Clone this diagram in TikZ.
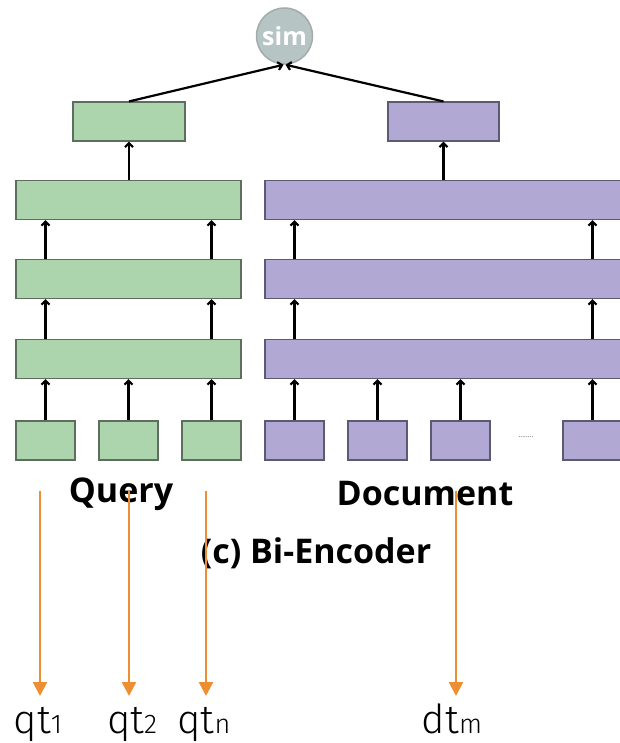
\documentclass[tikz,border=0pt]{standalone}
\usepackage{fontspec}
\setmainfont{Open Sans}
\newfontfamily\tokfont{Fira Sans Light}
\usetikzlibrary{arrows.meta,positioning}

\definecolor{qgreen}{HTML}{ACD5AE}
\definecolor{qedge}{HTML}{5E6E5E}
\definecolor{dpurple}{HTML}{B1A9D4}
\definecolor{dedge}{HTML}{5C5A72}
\definecolor{simgray}{HTML}{B7C4C4}
\definecolor{simedge}{HTML}{A2ACAC}
\definecolor{tokorange}{HTML}{EE8E32}

\tikzset{
  enc/.style={rectangle, draw, line width=1.1pt, inner sep=0pt, minimum height=39pt},
  qbox/.style={enc, fill=qgreen, draw=qedge},
  dbox/.style={enc, fill=dpurple, draw=dedge},
  arr/.style={line width=2.2pt, -{Straight Barb[length=4pt,width=8pt]}},
  tokarr/.style={draw=tokorange, line width=2.4pt, -{Triangle[length=14pt,width=14pt]}, fill=tokorange},
  caption/.style={font=\fontsize{34}{34}\selectfont\bfseries},
  toklabel/.style={anchor=base, inner sep=0pt, font=\tokfont}
}

% token name with its small index
\newcommand{\tok}[2]{{\fontsize{40}{40}\selectfont #1}{\fontsize{27}{27}\selectfont #2}}

\begin{document}
\begin{tikzpicture}[x=1pt, y=-1pt]
  \clip (0,0) rectangle (620,743);

  % similarity
  \node [circle, fill=simgray, draw=simedge, line width=1.5pt, minimum size=56pt, inner sep=0pt,
         text=white, font=\fontsize{25}{25}\selectfont\bfseries] (sim) at (284.5,36) {sim};

  % pooled outputs
  \node [qbox, minimum width=112pt] (qpool) at (129,121.5) {};
  \node [dbox, minimum width=111pt] (dpool) at (443.5,121.5) {};

  % encoder layers
  \foreach \i/\y in {1/200, 2/279, 3/359} {
    \node [qbox, minimum width=225pt] (qenc\i) at (128.5,\y) {};
    \node [dbox, minimum width=385pt] (denc\i) at (457.5,\y) {};
  }

  % input tokens
  \node [qbox, minimum width=59pt] (q1) at (45.5,440.5) {};
  \node [qbox, minimum width=59pt] (q2) at (128.5,440.5) {};
  \node [qbox, minimum width=59pt] (q3) at (211.5,440.5) {};
  \node [dbox, minimum width=59pt] (d1) at (294.5,440.5) {};
  \node [dbox, minimum width=59pt] (d2) at (377.5,440.5) {};
  \node [dbox, minimum width=59pt] (d3) at (460.5,440.5) {};
  \node [dbox, minimum width=59pt] (d4) at (592.5,440.5) {};
  \node [font=\fontsize{7}{7}\selectfont, text=black!70] (dots) at (526,437) {........};

  % tokens into first layer
  \foreach \t in {q1,q2,q3,d1,d2,d3,d4}
    \draw [arr] (\t.north) -- (\t.north |- qenc3.south);

  % layer to layer
  \foreach \t/\s in {q1/q, q3/q, d1/d, d4/d} {
    \draw [arr] (\t.north |- \s enc3.north) -- (\t.north |- \s enc2.south);
    \draw [arr] (\t.north |- \s enc2.north) -- (\t.north |- \s enc1.south);
  }

  \draw [arr] (qenc1.north -| qpool) -- (qpool.south);
  \draw [arr] (denc1.north -| dpool) -- (dpool.south);
  \draw [arr] (qpool.north) -- ([xshift=-1pt]sim.south);
  \draw [arr] (dpool.north) -- ([xshift=1pt]sim.south);

  % captions
  \node [caption] (qlab) at (121,494) {Query};
  \node [caption] (dlab) at (425,494) {Document};
  \node [caption] (title) at (316,553) {(c) Bi-Encoder};

  % token outputs
  \node [toklabel] (t1) at (38,733) {\tok{qt}{1}};
  \node [toklabel] (t2) at (132,733) {\tok{qt}{2}};
  \node [toklabel] (tn) at (204,733) {\tok{qt}{n}};
  \node [toklabel] (tm) at (452,733) {\tok{dt}{m}};

  \coordinate (s1) at (40,491);
  \coordinate (s2) at (129,491);
  \coordinate (sn) at (206,491);
  \coordinate (sm) at (456,491);
  \draw [tokarr] (s1) -- (s1 |- 0,696);
  \draw [tokarr] (s2) -- (s2 |- 0,696);
  \draw [tokarr] (sn) -- (sn |- 0,696);
  \draw [tokarr] (sm) -- (sm |- 0,696);
\end{tikzpicture}
\end{document}
